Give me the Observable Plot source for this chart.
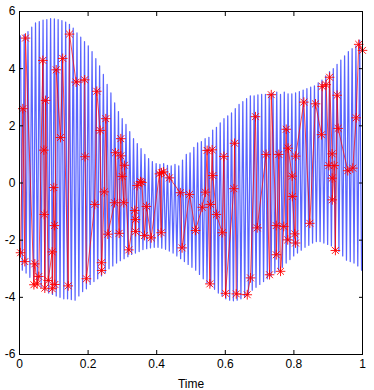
<!DOCTYPE html>
<html>
<head>
<meta charset="utf-8">
<script src="https://cdn.jsdelivr.net/npm/d3@7"></script>
<script src="https://cdn.jsdelivr.net/npm/@observablehq/plot@0.6"></script>
<style>
  html, body { margin: 0; padding: 0; background: #fff; }
  #chart svg { display: block; }
</style>
</head>
<body>
<div id="chart"></div>
<script>
// Blue signal: peak (upper) and trough (lower) values, one per oscillation period
const bluePeriods = 91;
const bluePeaks = [
  5.15, 5.2, 5.3, 5.45, 5.6, 5.65, 5.7, 5.72, 5.75, 5.74,
  5.72, 5.68, 5.63, 5.55, 5.42, 5.25, 5.1, 4.95, 4.8, 4.6,
  4.35, 4.1, 3.8, 3.45, 3.15, 2.8, 2.5, 2.25, 2.05, 1.8,
  1.55, 1.38, 1.2, 1.0, 0.85, 0.75, 0.68, 0.65, 0.68, 0.62,
  0.6, 0.65, 0.6, 0.8, 1.0, 1.05, 1.25, 1.4, 1.45, 1.55,
  1.6, 1.85, 1.95, 2.1, 2.25, 2.35, 2.45, 2.6, 2.75, 2.85,
  2.95, 3.05, 3.05, 3.08, 3.1, 3.1, 3.12, 3.15, 3.18, 3.1,
  3.18, 3.12, 3.12, 3.15, 3.2, 3.25, 3.3, 3.35, 3.4, 3.5,
  3.6, 3.75, 3.9, 4.0, 4.15, 4.3, 4.45, 4.6, 4.7, 4.8, 5.0
];
const blueTroughs = [
  -3.05, -3.15, -3.3, -3.4, -3.55, -3.65, -3.75, -3.85, -3.9, -3.95,
  -4.0, -4.05, -4.05, -4.08, -4.1, -3.95, -3.8, -3.7, -3.55, -3.45,
  -3.35, -3.25, -3.15, -3.0, -2.9, -2.8, -2.72, -2.65, -2.58, -2.5,
  -2.45, -2.4, -2.33, -2.3, -2.27, -2.25, -2.25, -2.28, -2.32, -2.38,
  -2.45, -2.55, -2.65, -2.75, -2.85, -2.95, -3.05, -3.2, -3.35, -3.5,
  -3.6, -3.72, -3.85, -3.95, -4.05, -4.1, -4.12, -4.1, -4.05, -4.0,
  -3.9, -3.75, -3.65, -3.55, -3.45, -3.35, -3.25, -3.15, -3.05, -2.95,
  -2.8, -2.68, -2.55, -2.45, -2.35, -2.25, -2.18, -2.1, -2.05, -2.05,
  -2.1, -2.15, -2.2, -2.3, -2.4, -2.55, -2.7, -2.75, -2.8, -2.9, -3.05
];

// Red sampled series: times and values
const redTime = [
  0.003, 0.0097, 0.0155, 0.0175, 0.042, 0.0446, 0.0516, 0.0563, 0.068, 0.071,
  0.072, 0.0738, 0.076, 0.0837, 0.0953, 0.0955, 0.0999, 0.102, 0.103, 0.107,
  0.1195, 0.126, 0.142, 0.1458, 0.165, 0.19, 0.191, 0.195, 0.2196, 0.2254,
  0.235, 0.239, 0.2395, 0.247, 0.2516, 0.2575, 0.277, 0.28, 0.2905, 0.2954,
  0.2956, 0.2993, 0.304, 0.306, 0.3187, 0.336, 0.338, 0.3385, 0.343, 0.3528,
  0.357, 0.3644, 0.37, 0.384, 0.408, 0.413, 0.414, 0.42, 0.437, 0.469,
  0.474, 0.4956, 0.513, 0.5326, 0.542, 0.547, 0.555, 0.557, 0.5617, 0.5636,
  0.574, 0.591, 0.5957, 0.6006, 0.625, 0.627, 0.632, 0.664, 0.6735, 0.688,
  0.693, 0.719, 0.729, 0.734, 0.7484, 0.7486, 0.756, 0.761, 0.7706, 0.7776,
  0.782, 0.783, 0.795, 0.7955, 0.8026, 0.8047, 0.805, 0.829, 0.8464, 0.863,
  0.8805, 0.8824, 0.894, 0.902, 0.904, 0.9114, 0.9116, 0.9118, 0.9175, 0.921,
  0.926, 0.929, 0.957, 0.9718, 0.9816, 0.989, 1.0
];
const redValue = [
  -2.44, 2.6, -2.75, 5.07, -3.56, -2.83, -3.53, -3.27, 4.29, 1.15,
  -1.1, -3.68, 2.89, -3.41, -2.41, -3.7, -0.16, -1.49, -3.55, 3.96,
  1.59, 4.36, -3.6, 5.21, 3.53, 3.61, 0.92, -3.35, -0.75, 3.21,
  1.84, -2.79, -3.06, -0.31, 2.25, -1.79, -0.69, 1.06, -1.76, 1.55,
  0.95, 0.23, -0.69, 0.62, -2.34, -0.96, -1.28, -1.7, -0.09, 0.05,
  0.02, -1.84, -0.82, -1.92, 0.32, -1.74, 0.36, 0.39, 0.18, -0.34,
  -2.27, -0.4, -1.66, -0.85, -0.32, 1.14, -3.53, -0.75, 1.16, 0.26,
  -1.1, -1.74, 0.93, -3.86, -0.2, 1.39, -3.88, -3.91, -3.32, 2.32,
  -1.57, 1.0, -3.21, 3.09, -1.49, -2.51, 1.0, -3.09, -1.52, 1.88,
  -1.99, 1.22, 0.24, -0.47, -1.78, -2.1, 0.94, 2.83, -1.41, 2.77,
  1.69, 3.38, 3.44, 0.61, 3.7, 1.02, 0.17, -0.59, 0.61, -2.36,
  3.07, 1.91, 0.43, 0.52, 2.28, 4.85, 4.64
];

const xTicks = [0, 0.2, 0.4, 0.6, 0.8, 1];
const yTicks = [-6, -4, -2, 0, 2, 4, 6];
const xLabel = "Time";

const blue = [];
for (let k = 0; k < bluePeriods; k++) {
  blue.push({t: (k + 0.25) / bluePeriods, v: bluePeaks[k]});
  blue.push({t: (k + 0.75) / bluePeriods, v: blueTroughs[k]});
}
const red = redTime.map((t, i) => ({t, v: redValue[i]}));

const fmt = d => String(d).replace("\u2212", "-");

const chart = Plot.plot({
  width: 374,
  height: 390,
  marginLeft: 19,
  marginRight: 12,
  marginTop: 11,
  marginBottom: 36,
  style: {fontFamily: "'Liberation Sans', Arial, sans-serif", fontSize: "12px", background: "#fff", color: "#000"},
  x: {domain: [0, 1]},
  y: {domain: [-6, 6]},
  marks: [
    Plot.line(blue, {x: "t", y: "v", stroke: "#1a2aff", strokeWidth: 1.25, strokeOpacity: 0.72}),
    Plot.line(red, {x: "t", y: "v", stroke: "#ff0000", strokeWidth: 0.7}),
    Plot.dot(red, {x: "t", y: "v", symbol: "plus", stroke: "#ff0000", r: 3.2, strokeWidth: 0.9}),
    Plot.dot(red, {x: "t", y: "v", symbol: "times", stroke: "#ff0000", r: 3.2, strokeWidth: 0.9}),
    Plot.frame({stroke: "#000", strokeWidth: 1}),
    Plot.axisX({anchor: "bottom", ticks: xTicks, tickSize: 0, tickPadding: 5, tickFormat: fmt,
      label: xLabel, labelAnchor: "center", labelOffset: 33, labelArrow: "none", fontSize: 12}),
    Plot.axisX({anchor: "bottom", ticks: xTicks, tickSize: -4, tickFormat: () => "", label: null}),
    Plot.axisX({anchor: "top", ticks: xTicks, tickSize: -4, tickFormat: () => "", label: null}),
    Plot.axisY({anchor: "left", ticks: yTicks, tickSize: 0, tickPadding: 4, tickFormat: fmt, label: null, fontSize: 12}),
    Plot.axisY({anchor: "left", ticks: yTicks, tickSize: -4, tickFormat: () => "", label: null}),
    Plot.axisY({anchor: "right", ticks: yTicks, tickSize: -4, tickFormat: () => "", label: null})
  ]
});
document.getElementById("chart").appendChild(chart);
</script>
</body>
</html>
